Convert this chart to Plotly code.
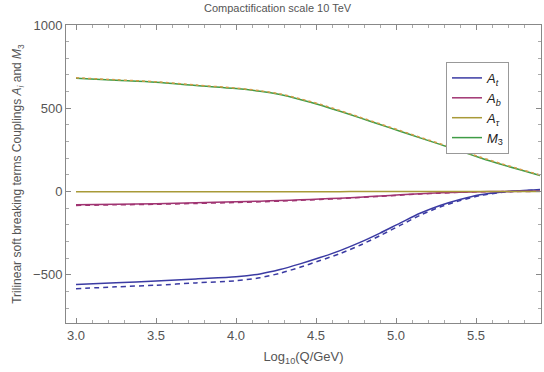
import plotly.graph_objects as go

# Data
x = [3.0, 3.25, 3.5, 3.75, 4.0, 4.15, 4.275, 4.4, 4.525, 4.65, 4.775, 4.9, 5.025,
     5.15, 5.275, 5.4, 5.525, 5.65, 5.775, 5.9]
At = [-558, -548, -538, -525, -512, -495, -469, -435, -397, -355, -306, -250, -190,
      -131, -84, -48, -20, -4, 5, 12]
At_d = [-584, -573, -563, -549, -536, -518, -491, -455, -415, -373, -323, -265, -204,
        -143, -93, -55, -25, -7, 3, 10]
Ab = [-80, -76, -73, -68, -62, -58, -54, -50, -45, -40, -34, -27, -20, -13, -8, -4, -1, 0, 1, 2]
Ab_d = [-84, -80, -77, -72, -66, -62, -58, -53, -48, -43, -36, -29, -22, -15, -10, -5, -2, -1, 0, 1]
Atau = [-1, -1, -1, -1, -1, -1, -1, -1, -1, -1, 0, 0, 0, 0, 0, 0, 0, 0, 0, 0]
M3 = [680, 668, 656, 636, 618, 602, 582, 553, 520, 482, 442, 402, 362, 322, 283, 243,
      203, 165, 130, 96]
M3_d = [683, 671, 659, 639, 621, 605, 586, 557, 524, 486, 446, 406, 366, 326, 287, 247,
        207, 169, 134, 99]

C_BLUE = "#3b3ba3"
C_MAG = "#a03472"
C_GOLD = "#a89a38"
C_GREEN = "#3f9c46"
C_ORANGE = "#d49a48"

fig = go.Figure()
line_kw = dict(shape="spline", smoothing=0.8)

fig.add_trace(go.Scatter(x=x, y=At_d, mode="lines", line=dict(color=C_BLUE, width=1.5, dash="5px,4px", **line_kw), showlegend=False))
fig.add_trace(go.Scatter(x=x, y=Ab_d, mode="lines", line=dict(color=C_MAG, width=1.5, dash="5px,4px", **line_kw), showlegend=False))
fig.add_trace(go.Scatter(x=x, y=At, mode="lines", name="<i>A<sub>t</sub></i>", line=dict(color=C_BLUE, width=1.5, **line_kw)))
fig.add_trace(go.Scatter(x=x, y=Ab, mode="lines", name="<i>A<sub>b</sub></i>", line=dict(color=C_MAG, width=1.5, **line_kw)))
fig.add_trace(go.Scatter(x=x, y=Atau, mode="lines", name="<i>A<sub>τ</sub></i>", line=dict(color=C_GOLD, width=1.5, **line_kw)))
fig.add_trace(go.Scatter(x=x, y=M3, mode="lines", name="<i>M</i><sub>3</sub>", line=dict(color=C_GREEN, width=1.5, **line_kw)))
fig.add_trace(go.Scatter(x=x, y=M3_d, mode="lines", line=dict(color=C_ORANGE, width=1.5, dash="3px,3px", **line_kw), showlegend=False))

axis_common = dict(
    showgrid=False, zeroline=False, showline=True, linecolor="#888888", linewidth=1,
    mirror="ticks", ticks="inside", ticklen=5, tickcolor="#888888", automargin=False,
    tickfont=dict(size=13, color="#555555"),
    minor=dict(ticks="inside", ticklen=3, tickcolor="#aaaaaa"),
)

fig.update_layout(
    width=544, height=372,
    margin=dict(l=66, r=3, t=25, b=49),
    paper_bgcolor="white", plot_bgcolor="white",
    font=dict(family="Liberation Sans, Arial, sans-serif", color="#555555"),
    xaxis=dict(range=[2.9375, 5.906], dtick=0.5, tickformat=".1f",
               title=dict(text="Log<sub>10</sub>(Q/GeV)", font=dict(size=13, color="#555555"), standoff=10),
               **axis_common),
    yaxis=dict(range=[-790, 1000], dtick=500,
               title=dict(text="Trilinear soft breaking terms Couplings <i>A<sub>i</sub></i> and <i>M</i><sub>3</sub>",
                          font=dict(size=12, color="#555555"), standoff=8),
               **axis_common),
    legend=dict(x=0.80, y=0.876, xanchor="left", yanchor="top", bordercolor="#999999", borderwidth=1,
                bgcolor="white", font=dict(size=13, color="#222222"), tracegroupgap=0, itemwidth=30),
    annotations=[dict(text="Compactification scale 10 TeV", xref="paper", yref="paper",
                      x=0.446, y=1.057, xanchor="center", yanchor="middle", showarrow=False,
                      font=dict(size=11, color="#555555"))],
)
fig.update_xaxes(minor=dict(dtick=0.1))
fig.update_yaxes(minor=dict(dtick=100))

fig.write_html("out.html", config={"displayModeBar": False},
               post_script="document.body.style.margin='0';")
